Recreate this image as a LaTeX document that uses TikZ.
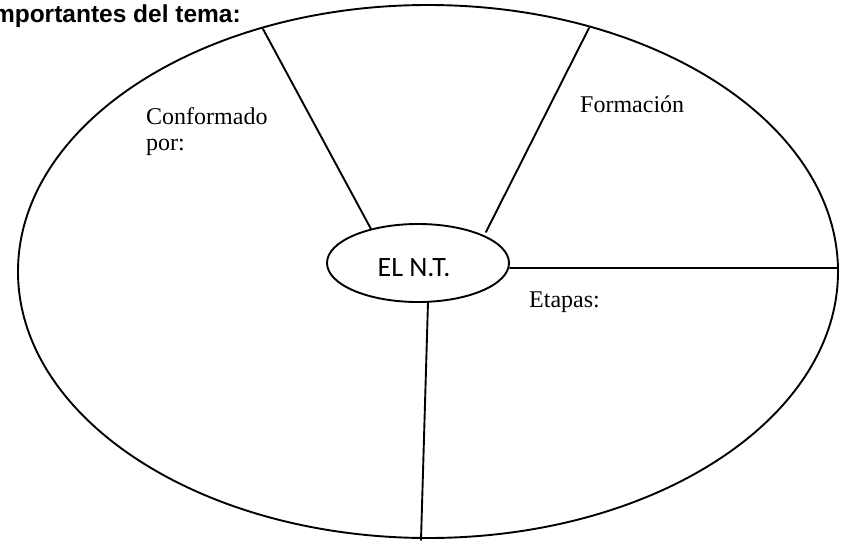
\documentclass[tikz,border=0pt]{standalone}
\usepackage{fontspec}
\usetikzlibrary{shapes.geometric}
\setmainfont{Liberation Serif}
\newfontfamily\carlitofont{Carlito}
\newfontfamily\arialfont{Liberation Sans}
\begin{document}
\begin{tikzpicture}[x=1pt,y=-1pt,
  lineseg/.style={line width=1.9pt, line cap=round},
  ovalbox/.style={draw, ellipse, line width=1.9pt, inner sep=0pt},
  txtlab/.style={inner sep=0pt, font=\fontsize{24}{26}\selectfont, anchor=base west, align=left}]
\useasboundingbox (0,0) rectangle (846,541);
\clip (0,0) rectangle (846,541);
% title
\node[inner sep=0pt, anchor=base east, font=\arialfont\bfseries\fontsize{24.5}{28}\selectfont] (title) at (241,22) {Importantes del tema:};
% big ellipse
\node[ovalbox, minimum width=820pt, minimum height=533pt] (outer) at (428,271.5) {};
% center ellipse
\node[ovalbox, minimum width=182pt, minimum height=78pt] (inner) at (418,263) {};
\node[inner sep=0pt, font=\carlitofont\fontsize{28}{32}\selectfont, anchor=base] (ent) at (414,276) {EL N.T.};
\coordinate (a1) at (263,29);
\coordinate (a2) at (371,229);
\coordinate (b1) at (589,28);
\coordinate (b2) at (486,232);
\coordinate (c1) at (510,268);
\coordinate (c2) at (838,268);
\coordinate (d1) at (428,302);
\coordinate (d2) at (421,540);
\draw[lineseg] (a1) -- (a2);
\draw[lineseg] (b1) -- (b2);
\draw[lineseg] (c1) -- (c2);
\draw[lineseg] (d1) -- (d2);
\node[txtlab] (conf) at (146,150) {Conformado\\por:};
\node[txtlab] (form) at (580,112) {Formación};
\node[txtlab] (etap) at (529,307) {Etapas:};
\end{tikzpicture}
\end{document}
